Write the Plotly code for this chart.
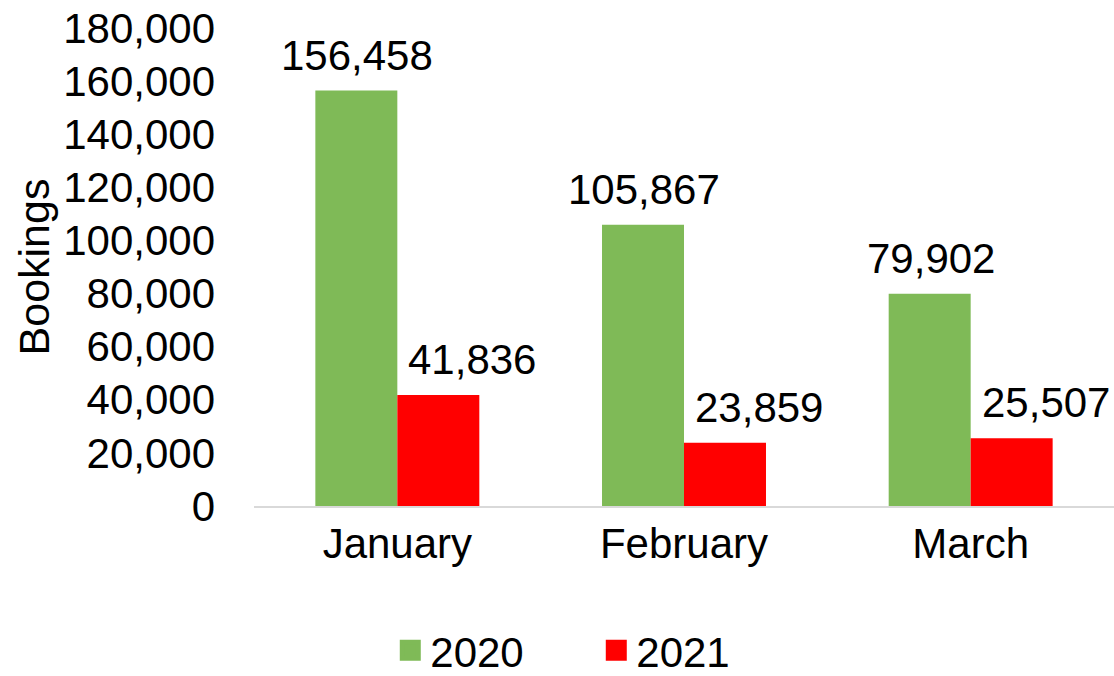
import plotly.graph_objects as go

months = ["January", "February", "March"]
bookings_2020 = [156458, 105867, 79902]
bookings_2021 = [41836, 23859, 25507]
series_names = ["2020", "2021"]
y_ticks = [0, 20000, 40000, 60000, 80000, 100000, 120000, 140000, 160000, 180000]

GREEN = "#7FBA57"
RED = "#FF0000"
FONT = "Liberation Sans, Arial, sans-serif"
FS = 42

W, H = 1114, 690
ML, MR, MT, MB = 254, 0, 28, 184
BARGAP = 0.428
plot_w = W - ML - MR
half_bar = plot_w / len(months) * (1 - BARGAP) / 4
LABEL_NUDGE = [1, 34]  # label offset (px) to the right, per series

fig = go.Figure()
series = [(series_names[0], bookings_2020, GREEN, -half_bar + LABEL_NUDGE[0]),
          (series_names[1], bookings_2021, RED, half_bar + LABEL_NUDGE[1])]
for name, vals, col, shift in series:
    fig.add_trace(go.Bar(
        x=months, y=vals, name=name, marker=dict(color=col, line=dict(width=0)),
        showlegend=False, hoverinfo="skip",
    ))
    fig.add_trace(go.Scatter(
        x=[None], y=[None], mode="markers", name=name,
        marker=dict(symbol="square", size=16, color=col, line=dict(width=5, color=col)),
        showlegend=True,
    ))
    for m, v in zip(months, vals):
        fig.add_annotation(x=m, y=v, text=f"{v:,}", showarrow=False,
                           xanchor="center", yanchor="bottom", xshift=shift, yshift=10,
                           font=dict(size=FS, color="black", family=FONT))

fig.update_layout(
    width=W, height=H,
    margin=dict(l=ML, r=MR, t=MT, b=MB, autoexpand=False),
    paper_bgcolor="white", plot_bgcolor="white",
    font=dict(family=FONT, size=FS, color="black"),
    barmode="group", bargap=BARGAP, bargroupgap=0,
    legend=dict(orientation="h", x=0.398, xanchor="center", y=-0.2312, yanchor="top",
                font=dict(size=FS), entrywidth=161, entrywidthmode="pixels",
                itemclick=False, itemsizing="trace"),
)
fig.update_xaxes(showline=True, linecolor="#D9D9D9", linewidth=2, ticks="", showgrid=False,
                 tickfont=dict(size=FS), ticklabelstandoff=0, automargin=False)
fig.update_yaxes(range=[0, 180000], tickvals=y_ticks, tickformat=",", showgrid=False,
                 zeroline=False, showline=False, ticks="", ticklabelstandoff=38,
                 tickfont=dict(size=FS), automargin=False,
                 title=dict(text="Bookings", font=dict(size=43), standoff=0))

fig.write_html("out.html", config={"displayModeBar": False},
               post_script="document.body.style.margin='0';document.body.style.overflow='hidden';")
